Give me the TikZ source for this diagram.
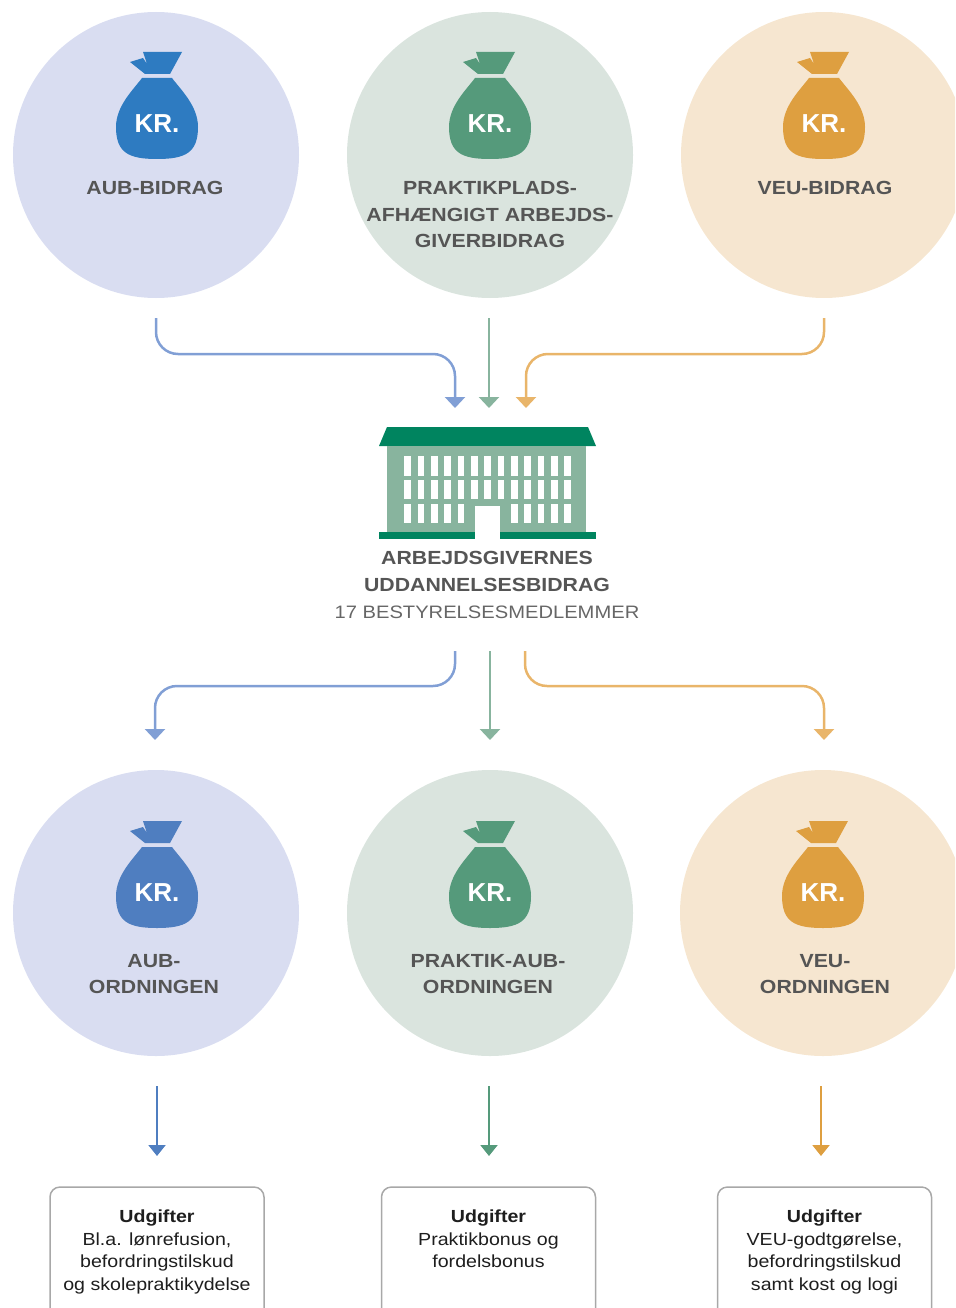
\documentclass[tikz,border=0pt]{standalone}
\usepackage{fontspec}
\setmainfont[FakeStretch=1.12]{Liberation Sans}
\newfontfamily\krfont{Liberation Sans}
\usetikzlibrary{arrows.meta}
\definecolor{circblue}{HTML}{D9DDF1}
\definecolor{circgreen}{HTML}{DAE4DE}
\definecolor{circorange}{HTML}{F6E6D0}
\definecolor{bagblueA}{HTML}{2E7BC1}
\definecolor{bagblueB}{HTML}{4F7EC0}
\definecolor{baggreen}{HTML}{559A7B}
\definecolor{bagorange}{HTML}{DE9F40}
\definecolor{arrblue}{HTML}{819FD5}
\definecolor{arrgreen}{HTML}{88B49E}
\definecolor{arrorange}{HTML}{E9B56A}
\definecolor{textgray}{HTML}{555555}
\definecolor{subgray}{HTML}{666666}
\definecolor{boxgray}{HTML}{A8A8A8}
\definecolor{boxtext}{HTML}{1E1E1E}
\definecolor{roofgreen}{HTML}{00845F}
\definecolor{wallgreen}{HTML}{88B49E}
\tikzset{
  bigcirc/.style={circle, minimum size=286pt, inner sep=0pt},
  lbl/.style={font=\bfseries\fontsize{19}{26.5}\selectfont, text=textgray, align=center, anchor=north, inner sep=0pt},
  sublbl/.style={font=\fontsize{18}{26.5}\selectfont, text=subgray, align=center, anchor=north, inner sep=0pt},
  boxtxt/.style={font=\fontsize{17.5}{22.6}\selectfont, text=boxtext, align=center, anchor=north, inner sep=0pt},
  costbox/.style={draw=boxgray, line width=1.5pt, rounded corners=10pt, minimum width=214pt, minimum height=150pt, inner sep=0pt},
  flow/.style={line width=2.5pt, rounded corners=22pt, -{Triangle[width=20pt,length=11pt]}},
  small/.style={line width=2pt, -{Triangle[width=17pt,length=11pt]}},
  krtext/.style={font=\krfont\bfseries\fontsize{26}{26}\selectfont, text=white, anchor=base, inner sep=0pt},
  pics/moneybag/.style={code={
    \fill[#1] (-14,-71) -- (25,-71) -- (13,-49) -- (-12,-49) -- (-27,-61) -- (-14,-65) -- (-10,-59) -- cycle;
    \fill[#1] (-15,-45) -- (15,-45) .. controls (24,-33) and (41,-17) .. (41,4)
      .. controls (41,30) and (28,36) .. (0,36)
      .. controls (-28,36) and (-41,30) .. (-41,4)
      .. controls (-41,-17) and (-24,-33) .. (-15,-45) -- cycle;
    \node[krtext] (-kr) at (0,9.3) {KR.};
  }}
}
\begin{document}
\begin{tikzpicture}[x=1pt,y=-1pt]
\useasboundingbox (0,0) rectangle (955,1308);
\begin{scope}
\clip (0,0) rectangle (955,1308);
% circles
\node[bigcirc, fill=circblue] (c1) at (156,155) {};
\node[bigcirc, fill=circgreen] (c2) at (490,155) {};
\node[bigcirc, fill=circorange] (c3) at (824,155) {};
\node[bigcirc, fill=circblue] (c4) at (156,913) {};
\node[bigcirc, fill=circgreen] (c5) at (490,913) {};
\node[bigcirc, fill=circorange] (c6) at (823,913) {};
% bags
\pic (bag1) at (157,123) {moneybag=bagblueA};
\pic (bag2) at (490,123) {moneybag=baggreen};
\pic (bag3) at (824,123) {moneybag=bagorange};
\pic (bag4) at (157,892) {moneybag=bagblueB};
\pic (bag5) at (490,892) {moneybag=baggreen};
\pic (bag6) at (823,892) {moneybag=bagorange};
% labels
\node[lbl] (l1) at (155,181.2) {AUB-BIDRAG};
\node[lbl] (l2) at (490,181.2) {PRAKTIKPLADS-\\AFHÆNGIGT ARBEJDS-\\GIVERBIDRAG};
\node[lbl] (l3) at (825,181.2) {VEU-BIDRAG};
\node[lbl] (l4) at (154,954.2) {AUB-\\ORDNINGEN};
\node[lbl] (l5) at (488,954.2) {PRAKTIK-AUB-\\ORDNINGEN};
\node[lbl] (l6) at (825,954.2) {VEU-\\ORDNINGEN};
% building
\coordinate (bldg) at (487,480);
\fill[roofgreen] (387,427) -- (588,427) -- (596,446) -- (379,446) -- cycle;
\fill[wallgreen] (387,446) rectangle (586,532);
\fill[roofgreen] (379,532) rectangle (475,539);
\fill[roofgreen] (500,532) rectangle (596,539);
\fill[white] (475,506) rectangle (500,539);
\foreach \i in {0,...,12}{
  \pgfmathsetmacro{\xx}{370+(103+40*\i)/3}
  \fill[white] (\xx,456) rectangle (\xx+6.7,476);
  \fill[white] (\xx,480) rectangle (\xx+6.7,499);
  \ifnum\i<5 \fill[white] (\xx,504) rectangle (\xx+6.7,523); \fi
  \ifnum\i>7 \fill[white] (\xx,504) rectangle (\xx+6.7,523); \fi
}
\node[lbl] (title) at (487,551.2) {ARBEJDSGIVERNES\\UDDANNELSESBIDRAG};
\node[sublbl] (sub) at (487,605.6) {17 BESTYRELSESMEDLEMMER};
% connector ends
\coordinate (s1) at (156,318); \coordinate (e1) at (455,408);
\coordinate (s2) at (489,318); \coordinate (e2) at (489,408);
\coordinate (s3) at (824,318); \coordinate (e3) at (526,408);
\coordinate (s4) at (455,651); \coordinate (e4) at (155,740);
\coordinate (s5) at (490,651); \coordinate (e5) at (490,740);
\coordinate (s6) at (525,651); \coordinate (e6) at (824,740);
\coordinate (s7) at (157,1086); \coordinate (e7) at (157,1156);
\coordinate (s8) at (489,1086); \coordinate (e8) at (489,1156);
\coordinate (s9) at (821,1086); \coordinate (e9) at (821,1156);
\draw[flow, arrblue] (s1) -- (156,354) -- (455,354) -- (e1);
\draw[flow, arrgreen] (s2) -- (e2);
\draw[flow, arrorange] (s3) -- (824,354) -- (526,354) -- (e3);
\draw[flow, arrblue] (s4) -- (455,686) -- (155,686) -- (e4);
\draw[flow, arrgreen] (s5) -- (e5);
\draw[flow, arrorange] (s6) -- (525,686) -- (824,686) -- (e6);
\draw[small, bagblueB] (s7) -- (e7);
\draw[small, baggreen] (s8) -- (e8);
\draw[small, bagorange] (s9) -- (e9);
% boxes
\node[costbox] (b1) at (157,1262) {};
\node[costbox] (b2) at (488.5,1262) {};
\node[costbox] (b3) at (824.5,1262) {};
\node[boxtxt] (t1) at (157,1209.7) {\textbf{Udgifter}\\Bl.a. lønrefusion,\\befordringstilskud\\og skolepraktikydelse};
\node[boxtxt] (t2) at (488.5,1209.7) {\textbf{Udgifter}\\Praktikbonus og\\fordelsbonus};
\node[boxtxt] (t3) at (824.5,1209.7) {\textbf{Udgifter}\\VEU-godtgørelse,\\befordringstilskud\\samt kost og logi};
\end{scope}
\end{tikzpicture}
\end{document}
